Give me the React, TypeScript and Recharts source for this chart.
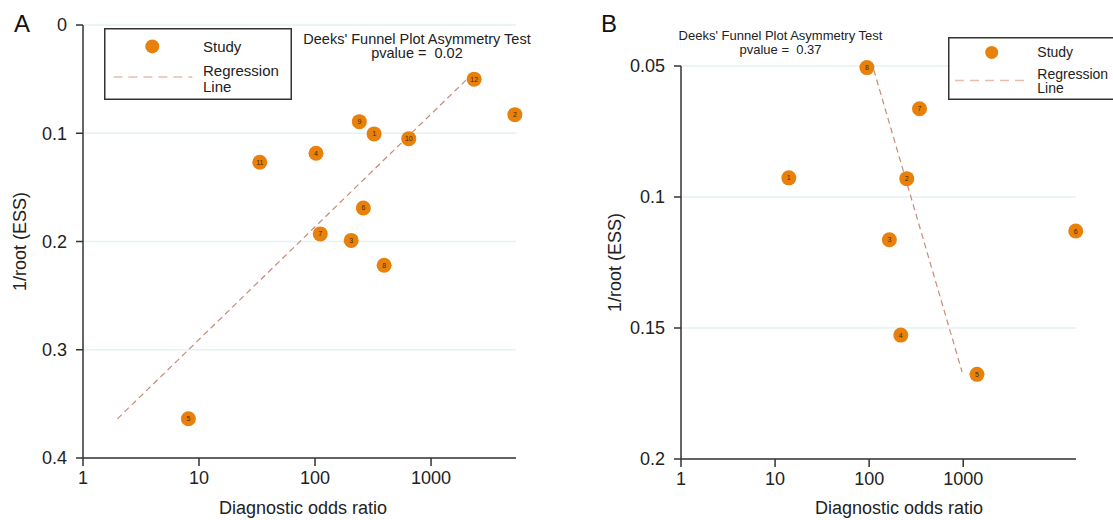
import { ScatterChart, Scatter, XAxis, YAxis, CartesianGrid, Legend } from 'recharts';

const FONT = '"Liberation Sans", Arial, sans-serif';
const ORANGE = '#e8800c';
const REG = '#c98a78';
const REG_LEGEND = '#e6bdae';
const AXIS = '#333';
const GRID = '#e4f2f2';

// panel A: 12 studies
const studyIdsA = [1, 2, 3, 4, 5, 6, 7, 8, 9, 10, 11, 12];
const dorA = [323, 5280, 205, 102, 8.1, 261, 111, 394, 241, 643, 33.4, 2353];
const essA = [0.1006, 0.0828, 0.199, 0.1185, 0.3638, 0.169, 0.193, 0.222, 0.0893, 0.105, 0.1268, 0.05];
const regDorA = [1.98, 2080];
const regEssA = [0.3638, 0.0492];
const yTicksA = [0, 0.1, 0.2, 0.3, 0.4];

// panel B: 8 studies
const studyIdsB = [1, 2, 3, 4, 5, 6, 7, 8];
const dorB = [14, 251, 164, 217, 1400, 15700, 343, 94.6];
const essB = [0.0927, 0.093, 0.1163, 0.1527, 0.1677, 0.113, 0.0663, 0.0506];
const regDorB = [112, 973];
const regEssB = [0.0515, 0.1668];
const yTicksB = [0.05, 0.1, 0.15, 0.2];

const xTicks = [1, 10, 100, 1000];

const toRows = (ids: number[], dor: number[], ess: number[]) =>
  dor.map((d, i) => ({ id: ids[i], dor: d, ess: ess[i] }));
const toLine = (dor: number[], ess: number[]) => dor.map((d, i) => ({ dor: d, ess: ess[i] }));

const dataA = toRows(studyIdsA, dorA, essA);
const dataB = toRows(studyIdsB, dorB, essB);
const lineA = toLine(regDorA, regEssA);
const lineB = toLine(regDorB, regEssB);

function StudyDot(props: any) {
  const { cx, cy, payload } = props;
  if (cx == null || cy == null) return null;
  return (
    <g>
      <circle cx={cx} cy={cy} r={7.5} fill={ORANGE} />
      <text x={cx} y={cy} dy="0.35em" textAnchor="middle" fontSize={7} fill="#4a2a00" fontFamily={FONT}>
        {payload.id}
      </text>
    </g>
  );
}

const noShape = () => <g />;

// legend frame; B's frame runs off the right edge of the figure
function legendBox(w: number, h: number, open: boolean, fs: number, circle: [number, number, number], textX: number, studyY: number, dash: [number, number, number], regY: number, lineY: number) {
  return () => (
    <svg width={w} height={h} style={{ display: 'block', overflow: 'hidden' }}>
      <rect x={0.75} y={0.75} width={open ? w + 20 : w - 1.5} height={h - 1.5} fill="#fff" stroke={AXIS} strokeWidth={1.5} />
      <circle cx={circle[0]} cy={circle[1]} r={circle[2]} fill={ORANGE} />
      <line x1={dash[0]} x2={dash[1]} y1={dash[2]} y2={dash[2]} stroke={REG_LEGEND} strokeWidth={1.5} strokeDasharray="9 6" />
      <g fontFamily={FONT} fontSize={fs} fill="#222">
        <text x={textX} y={studyY}>Study</text>
        <text x={textX} y={regY}>Regression</text>
        <text x={textX} y={lineY}>Line</text>
      </g>
    </svg>
  );
}

const yLabel = (x: number) => (props: any) => {
  const vb = props.viewBox || {};
  const cy = (vb.y || 0) + (vb.height || 0) / 2;
  return (
    <text x={x} y={cy} transform={`rotate(-90 ${x} ${cy})`} textAnchor="middle" dominantBaseline="central" fontSize={18} fontFamily={FONT} fill="#222">
      1/root (ESS)
    </text>
  );
};

const xLabel = (x: number, y: number) => () => (
  <text x={x} y={y} textAnchor="middle" fontSize={18} fontFamily={FONT} fill="#222">
    Diagnostic odds ratio
  </text>
);

function Panel(props: {
  width: number;
  margin: any;
  yWidth: number;
  xHeight: number;
  xMax: number;
  yDomain: [number, number];
  yTicks: number[];
  data: any[];
  line: any[];
  legend: any;
  legendPos: any;
  yLabelX: number;
  xLabelX: number;
}) {
  const tickStyle = { fill: '#222', fontSize: 18, fontFamily: FONT };
  return (
    <ScatterChart width={props.width} height={520} margin={props.margin}>
      <CartesianGrid vertical={false} stroke={GRID} strokeWidth={1.5} />
      <XAxis
        type="number"
        dataKey="dor"
        scale="log"
        domain={[1, props.xMax]}
        ticks={xTicks}
        height={props.xHeight}
        axisLine={{ stroke: AXIS, strokeWidth: 1.5 }}
        tickLine={{ stroke: AXIS, strokeWidth: 1.5 }}
        tickSize={8}
        tickMargin={5}
        tick={tickStyle}
        label={{ content: xLabel(props.xLabelX, 514) }}
      />
      <YAxis
        type="number"
        dataKey="ess"
        reversed
        domain={props.yDomain}
        ticks={props.yTicks}
        width={props.yWidth}
        axisLine={{ stroke: AXIS, strokeWidth: 1.5 }}
        tickLine={{ stroke: AXIS, strokeWidth: 1.5 }}
        tickSize={7}
        tickMargin={9}
        tick={tickStyle}
        label={{ content: yLabel(props.yLabelX) }}
      />
      <Legend
        layout="vertical"
        align="center"
        verticalAlign="middle"
        content={props.legend}
        wrapperStyle={props.legendPos}
      />
      <Scatter
        data={props.line}
        line={{ stroke: REG, strokeWidth: 1.2, strokeDasharray: '6 4' }}
        shape={noShape}
        legendType="none"
        isAnimationActive={false}
      />
      <Scatter data={props.data} shape={StudyDot} isAnimationActive={false} />
    </ScatterChart>
  );
}

export default function App() {
  return (
    <div style={{ position: 'absolute', left: 0, top: 0, width: 1113, height: 520, overflow: 'hidden', background: '#fff', fontFamily: FONT }}>
      <div style={{ position: 'absolute', left: 0, top: 0 }}>
        <Panel
          width={560}
          margin={{ top: 25, right: 44, bottom: 0, left: 0 }}
          yWidth={83}
          xHeight={62}
          xMax={5400}
          yDomain={[0, 0.4]}
          yTicks={yTicksA}
          data={dataA}
          line={lineA}
          legend={legendBox(188, 72, false, 15, [48.3, 18.4, 7], 99, 23.7, [9.4, 88.4, 49], 47.7, 64.2)}
          legendPos={{ left: 104, top: 28, width: 188, height: 72 }}
          yLabelX={19.6}
          xLabelX={303}
        />
      </div>
      <div style={{ position: 'absolute', left: 560, top: 0 }}>
        <Panel
          width={553}
          margin={{ top: 66, right: 37, bottom: 0, left: 0 }}
          yWidth={121}
          xHeight={61}
          xMax={15800}
          yDomain={[0.05, 0.2]}
          yTicks={yTicksB}
          data={dataB}
          line={lineB}
          legend={legendBox(165, 63, true, 14, [43.7, 15.4, 6.5], 89.3, 20.2, [7, 78.7, 43.4], 42.2, 56.2)}
          legendPos={{ left: 388, top: 37, width: 165, height: 63 }}
          yLabelX={54.7}
          xLabelX={339}
        />
      </div>
      <svg width={1113} height={520} style={{ position: 'absolute', left: 0, top: 0, pointerEvents: 'none' }}>
        <g fontFamily={FONT} fill="#111">
          <text x={14} y={32} fontSize={24}>A</text>
          <text x={601} y={32} fontSize={24}>B</text>
        </g>
        <g fontFamily={FONT} fill="#222" textAnchor="middle">
          <text x={417} y={43.5} fontSize={14.5}>Deeks' Funnel Plot Asymmetry Test</text>
          <text x={417} y={57.5} fontSize={14.5} xmlSpace="preserve" style={{ whiteSpace: 'pre' }}>pvalue =  0.02</text>
          <text x={780.5} y={40} fontSize={13}>Deeks' Funnel Plot Asymmetry Test</text>
          <text x={780.5} y={53.5} fontSize={13} xmlSpace="preserve" style={{ whiteSpace: 'pre' }}>pvalue =  0.37</text>
        </g>
      </svg>
    </div>
  );
}
